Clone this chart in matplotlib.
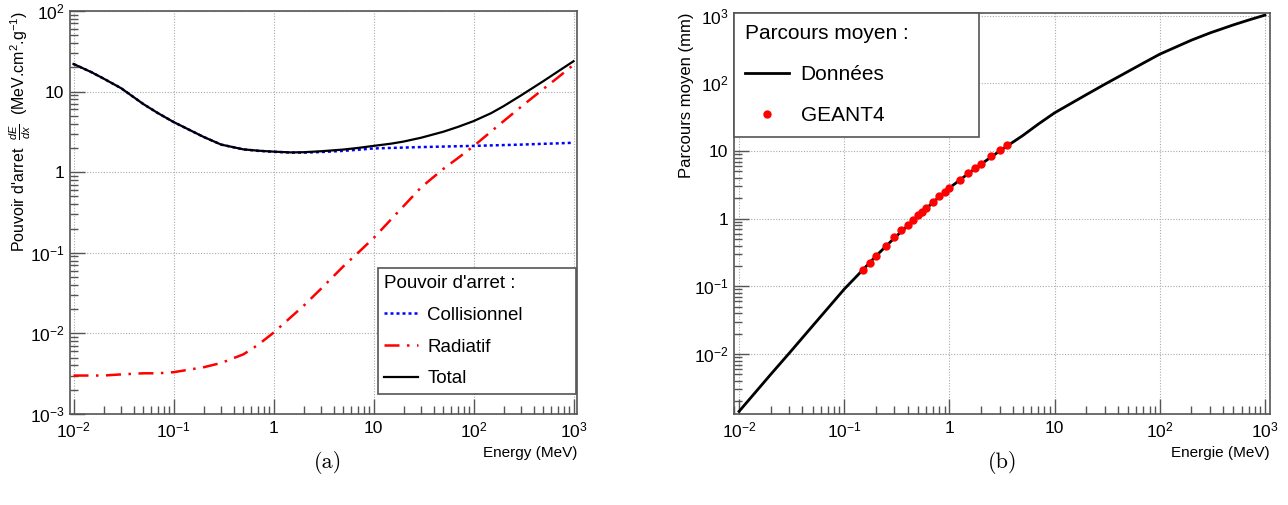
import numpy as np
import matplotlib
matplotlib.use("Agg")
import matplotlib.pyplot as plt
from matplotlib.ticker import LogLocator, FixedLocator, FuncFormatter, NullFormatter

plt.rcParams['font.family'] = ['Liberation Sans', 'DejaVu Sans']
plt.rcParams['mathtext.fontset'] = 'custom'
plt.rcParams['mathtext.rm'] = 'Liberation Sans'
plt.rcParams['mathtext.it'] = 'Liberation Sans:italic'
plt.rcParams['mathtext.bf'] = 'Liberation Sans:bold'

# ---------------- Data: (a) stopping power ----------------
energy_sp = [0.01, 0.015, 0.02, 0.03, 0.05, 0.07, 0.1, 0.2, 0.3, 0.5, 0.7, 1.0, 1.5, 2.0, 3.0,
             5.0, 7.0, 10.0, 15.0, 20.0, 30.0, 50.0, 70.0, 100.0, 150.0, 200.0, 300.0, 500.0,
             700.0, 1000.0]
collision = [22.0, 17.5, 14.5, 11.0, 7.0, 5.4, 4.2, 2.74, 2.2, 1.92, 1.84, 1.79, 1.75, 1.75,
             1.78, 1.84, 1.90, 1.97, 2.00, 2.02, 2.05, 2.08, 2.10, 2.12, 2.15, 2.17, 2.20, 2.25,
             2.28, 2.32]
radiative = [0.0030, 0.0030, 0.0030, 0.0031, 0.0032, 0.0032, 0.0033, 0.0038, 0.0043, 0.0055,
             0.0072, 0.0102, 0.016, 0.022, 0.036, 0.068, 0.10, 0.152, 0.26, 0.38, 0.65, 1.1,
             1.5, 2.1, 3.2, 4.3, 6.5, 10.8, 15.0, 21.5]
total = [22.0, 17.5, 14.5, 11.0, 7.0, 5.4, 4.2, 2.74, 2.2, 1.92, 1.85, 1.80, 1.76, 1.77, 1.82,
         1.91, 2.0, 2.12, 2.26, 2.40, 2.68, 3.18, 3.65, 4.3, 5.4, 6.6, 9.0, 13.5, 17.8, 23.8]

# ---------------- Data: (b) mean range ----------------
energy_range = [0.01, 0.02, 0.03, 0.05, 0.1, 0.15, 0.2, 0.3, 0.5, 0.7, 1.0, 1.5, 2.0, 3.0,
                5.0, 7.0, 10.0, 20.0, 30.0, 50.0, 70.0, 100.0, 150.0, 200.0, 300.0, 500.0,
                700.0, 1000.0]
range_mm = [0.00142, 0.0050, 0.0103, 0.026, 0.091, 0.175, 0.28, 0.52, 1.08, 1.75, 2.85, 4.6,
            6.4, 10.0, 17.0, 25.0, 36.7, 68.0, 97.0, 150.0, 200.0, 270.0, 357.0, 435.0,
            556.0, 731.0, 863.0, 1020.0]
geant4_energy = [0.15, 0.175, 0.2, 0.25, 0.3, 0.35, 0.4, 0.45, 0.5, 0.55, 0.6, 0.7, 0.8, 0.9,
                 1.0, 1.25, 1.5, 1.75, 2.0, 2.5, 3.0, 3.5]
geant4_range = [0.175, 0.225, 0.283, 0.398, 0.528, 0.67, 0.815, 0.966, 1.12, 1.27, 1.42, 1.79,
                2.14, 2.45, 2.88, 3.74, 4.7, 5.56, 6.45, 8.45, 10.2, 12.1]

# tick decades shown on each axis
x_decades = [1e-2, 1e-1, 1e0, 1e1, 1e2, 1e3]
y_decades_a = [1e-3, 1e-2, 1e-1, 1e0, 1e1, 1e2]
y_decades_b = [1e-2, 1e-1, 1e0, 1e1, 1e2, 1e3]

W, H = 1288, 505
fig = plt.figure(figsize=(W / 100, H / 100), dpi=100)


def px_axes(x0, x1, ytop, ybot):
    return fig.add_axes([x0 / W, 1 - ybot / H, (x1 - x0) / W, (ybot - ytop) / H])


def fmt(v, pos):
    e = int(round(np.log10(v)))
    if e == 0:
        return "1"
    if e == 1:
        return "10"
    return r"$10^{%d}$" % e


def style(ax, ymajor):
    ax.set_xscale('log')
    ax.set_yscale('log')
    for ax_, major in ((ax.xaxis, x_decades), (ax.yaxis, ymajor)):
        ax_.set_major_locator(FixedLocator(major))
        ax_.set_minor_locator(LogLocator(base=10, subs=np.arange(2, 10), numticks=20))
        ax_.set_major_formatter(FuncFormatter(fmt))
        ax_.set_minor_formatter(NullFormatter())
    ax.tick_params(which='both', direction='in', top=False, right=False, color='#555555',
                   labelsize=12.5)
    ax.tick_params(which='major', length=11, width=1.0)
    ax.tick_params(which='minor', length=5.5, width=1.0)
    ax.tick_params(axis='x', pad=5)
    ax.tick_params(axis='y', pad=4)
    for s in ax.spines.values():
        s.set_color('#555555')
        s.set_linewidth(1.2)
    ax.grid(True, which='major', linestyle=(0, (1, 1.5)), color='#aaaaaa', linewidth=0.8)


# ---------------- (a) ----------------
ax1 = px_axes(70, 577, 11, 414)
style(ax1, y_decades_a)
ax1.set_xlim(10 ** -2.035, 10 ** 3.035)
ax1.set_ylim(1e-3, 1e2)
ax1.plot(energy_sp, collision, color='blue', linestyle=(0, (1.2, 1.2)), linewidth=1.8,
         label='Collisionnel')
ax1.plot(energy_sp, radiative, color='red', linestyle=(0, (6, 3, 1, 3)), linewidth=1.8,
         label='Radiatif')
ax1.plot(energy_sp, total, color='black', linewidth=1.6, label='Total')
ax1.set_xlabel('Energy (MeV)', loc='right', fontsize=11)
ax1.set_ylabel(r"Pouvoir d'arret  $\frac{dE}{dx}$  (MeV.cm$^{2}$.g$^{-1}$)", loc='top',
               fontsize=11.5)
ax1.yaxis.set_label_coords(-0.073, 1.0)
ax1.xaxis.set_label_coords(1.0, -0.08)
leg1 = ax1.legend(title="Pouvoir d'arret :", loc='lower left',
                  bbox_to_anchor=(0.607, 0.05, 0.391, 0.31), mode='expand',
                  fontsize=13.5, title_fontsize=13.5, frameon=True, fancybox=False,
                  edgecolor='#555555', framealpha=1, borderaxespad=0, handlelength=1.8,
                  handletextpad=0.5, labelspacing=0.78, borderpad=0.35)
leg1._legend_box.align = 'left'
leg1.get_frame().set_linewidth(1.2)

# ---------------- (b) ----------------
ax2 = px_axes(734, 1270, 13, 414)
style(ax2, y_decades_b)
ax2.set_xlim(10 ** -2.048, 10 ** 3.048)
ax2.set_ylim(10 ** -2.886, 10 ** 3.04)
ax2.plot(energy_range, range_mm, color='black', linewidth=2.0, label='Données')
ax2.plot(geant4_energy, geant4_range, linestyle='none', marker='o', markersize=5,
         color='red', markeredgecolor='red', label='GEANT4')
ax2.set_xlabel('Energie (MeV)', loc='right', fontsize=11)
ax2.set_ylabel('Parcours moyen (mm)', loc='top', fontsize=12)
ax2.yaxis.set_label_coords(-0.075, 1.0)
ax2.xaxis.set_label_coords(1.0, -0.08)
leg2 = ax2.legend(title="Parcours moyen :", loc='upper left',
                  bbox_to_anchor=(0.0, 0.696, 0.457, 0.304), mode='expand',
                  fontsize=15, title_fontsize=15, frameon=True, fancybox=False,
                  edgecolor='#555555', framealpha=1, borderaxespad=0, handlelength=2.1,
                  handletextpad=0.55, labelspacing=1.05, borderpad=0.55)
leg2._legend_box.align = 'left'
leg2.get_frame().set_linewidth(1.2)

# ---------------- captions ----------------
fig.text(328 / W, 1 - 462 / H, '(a)', family='cmr10', fontsize=16, ha='center', va='center')
fig.text(1003 / W, 1 - 462 / H, '(b)', family='cmr10', fontsize=16, ha='center', va='center')

fig.savefig('out.png', dpi=100)
